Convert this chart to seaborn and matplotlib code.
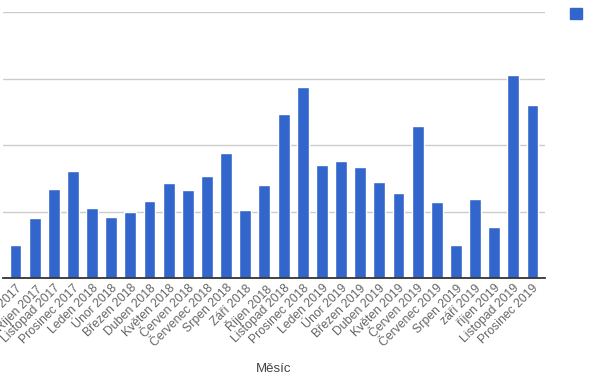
import matplotlib
matplotlib.use("Agg")
import matplotlib.pyplot as plt
from matplotlib.patches import Patch
import seaborn as sns
import pandas as pd

months = ["Září 2017", "Říjen 2017", "Listopad 2017", "Prosinec 2017",
          "Leden 2018", "Únor 2018", "Březen 2018", "Duben 2018", "Květen 2018",
          "Červen 2018", "Červenec 2018", "Srpen 2018", "Září 2018", "Říjen 2018",
          "Listopad 2018", "Prosinec 2018",
          "Leden 2019", "Únor 2019", "Březen 2019", "Duben 2019", "Květen 2019",
          "Červen 2019", "Červenec 2019", "Srpen 2019", "září 2019", "říjen 2019",
          "Listopad 2019", "Prosinec 2019"]
values = [4.9, 9.0, 13.4, 16.1,
          10.5, 9.1, 9.9, 11.6, 14.3, 13.2, 15.3, 18.8, 10.2, 14.0, 24.6, 28.7,
          17.0, 17.6, 16.7, 14.4, 12.8, 22.8, 11.4, 4.9, 11.9, 7.6, 30.5, 26.0]

df = pd.DataFrame({"Měsíc": months, "Hodnota": values})

sns.set_style("white")
plt.rcParams["font.family"] = ["Liberation Sans", "DejaVu Sans"]

blue = "#3366CC"
fig = plt.figure(figsize=(6, 3.85), dpi=100)
ax = fig.add_axes([3 / 600, 1 - 278 / 385, 542 / 600, 266 / 385])

sns.barplot(data=df, x="Měsíc", y="Hodnota", color=blue, saturation=1,
            width=0.62, ax=ax, zorder=3)

ax.set_ylim(0, 40)
ax.set_xlim(-0.65, 27.65)
ax.set_yticks([10, 20, 30, 40])
ax.set_yticklabels([])
ax.tick_params(axis="y", length=0)
ax.grid(axis="y", color="#cccccc", linewidth=1, zorder=0)
ax.set_axisbelow(True)
for s in ["left", "right", "top"]:
    ax.spines[s].set_visible(False)
ax.spines["bottom"].set_color("#333333")
ax.spines["bottom"].set_linewidth(1.3)
ax.spines["bottom"].set_zorder(4)

ax.set_xticks(range(len(months)))
ax.set_xticklabels(months, rotation=45, ha="right", rotation_mode="anchor",
                   fontsize=8.8, color="#666666")
ax.tick_params(axis="x", length=0, pad=3)
ax.set_ylabel("")
ax.set_xlabel("Měsíc", fontsize=9.5, color="#444444")
ax.xaxis.set_label_coords(0.5, -(363 - 278) / 266)

fig.legend(handles=[Patch(facecolor=blue, edgecolor=blue)], labels=[" "],
           loc="upper left", bbox_to_anchor=(558 / 600, 1 + 4 / 385),
           frameon=False, handlelength=0.9, handleheight=0.9, fontsize=9.5)

fig.savefig("out.png", dpi=100)
